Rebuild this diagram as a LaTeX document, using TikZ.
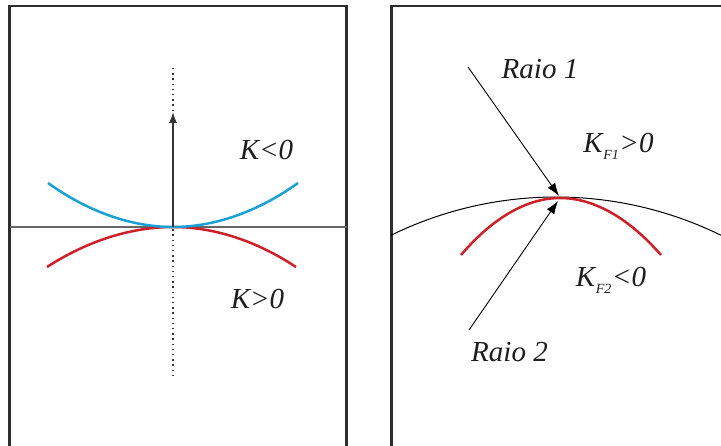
\documentclass[tikz,border=0pt]{standalone}
\usepackage{fontspec}
\setmainfont{Liberation Serif}
\usetikzlibrary{arrows.meta}
\definecolor{curveblue}{RGB}{25,160,212}
\definecolor{curvered}{RGB}{205,32,40}
\definecolor{framecol}{RGB}{45,45,45}
\definecolor{txtcol}{RGB}{30,30,30}
\newcommand{\subtxt}[1]{\kern0.02em\raisebox{-0.24em}{\fontsize{14}{14}\selectfont #1}\kern0.02em}
\begin{document}
\begin{tikzpicture}[x=1pt,y=-1pt,
  lbl/.style={font=\fontsize{29}{30}\selectfont\itshape, text=txtcol, inner sep=0pt, anchor=base},
  panel/.style={draw=framecol, line width=2.5pt},
  curve/.style={line width=2.5pt},
  ray/.style={draw=black, line width=0.9pt, -{Latex[length=13pt,width=9pt]}},
  axisarrow/.style={draw=black!80, line width=1.3pt, -{Latex[length=11pt,width=8pt]}}]
\clip (0,0) rectangle (721,446);
\fill[white] (0,0) rectangle (721,446);
% panels
\draw[panel] (9.5,6) rectangle (346.5,470);
\draw[panel] (391.5,6) rectangle (750,470);
% ---- left panel ----
\coordinate (O) at (173,227);
\coordinate (hl) at (9.5,227);
\coordinate (hr) at (346.5,227);
\coordinate (vt) at (173,68);
\coordinate (vb) at (173,375);
\coordinate (at) at (173,112);
\draw[black!60, line width=1.1pt] (hl) -- (hr);
\draw[black!80, line width=1.4pt, dash pattern=on 1.4pt off 3.8pt] (vt) -- (vb);
\draw[curvered, curve] (47,267) parabola bend (O) (296,267);
\draw[curveblue, curve] (48,183) parabola bend (O) (298,183);
\draw[axisarrow] (O) -- (at);
\node[lbl] (kneg) at (266.5,160) {K<0};
\node[lbl] (kpos) at (257.5,309) {K>0};
% ---- right panel ----
\draw[black, line width=1pt, domain=-116.1:-63.9, samples=80, smooth]
  plot ({556+375*cos(\x)},{572+375*sin(\x)});
\coordinate (P) at (560,198);
\draw[curvered, curve] (461,255) parabola bend (P) (661,255);
\coordinate (r1s) at (468,67);
\coordinate (r1t) at (559,196);
\coordinate (r2s) at (469,330);
\coordinate (r2t) at (558,201);
\draw[ray] (r1s) -- (r1t);
\draw[ray] (r2s) -- (r2t);
\node[lbl] (raio1) at (540,79) {Raio 1};
\node[lbl] (raio2) at (509.5,362) {Raio 2};
\node[lbl] (kf1) at (618.5,153) {K\subtxt{F1}>0};
\node[lbl] (kf2) at (611,287) {K\subtxt{F2}<0};
\end{tikzpicture}
\end{document}
